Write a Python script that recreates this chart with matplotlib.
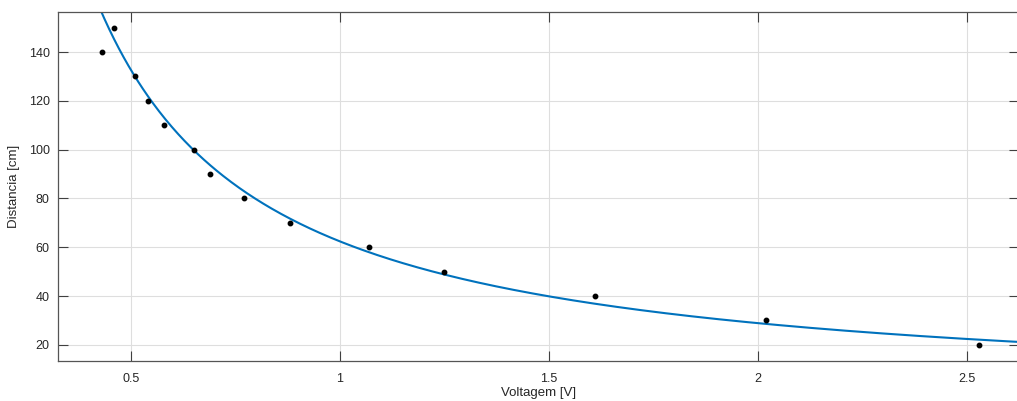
import numpy as np
import matplotlib
matplotlib.use('Agg')
import matplotlib.pyplot as plt

voltagem = [0.43, 0.46, 0.51, 0.54, 0.58, 0.65, 0.69, 0.77, 0.88, 1.07, 1.25, 1.61, 2.02, 2.53]
distancia = [140, 150, 130, 120, 110, 100, 90, 80, 70, 60, 50, 40, 30, 20]

# coeficientes da curva ajustada d = a*V^b + c (estimados a partir do gráfico)
fit_a = 64.05
fit_b = -1.068
fit_c = -1.65

x_ticks = [0.5, 1, 1.5, 2, 2.5]
x_tick_labels = ['0.5', '1', '1.5', '2', '2.5']
y_ticks = [20, 40, 60, 80, 100, 120, 140]

plt.rcParams['font.family'] = ['Liberation Sans', 'DejaVu Sans']

fig = plt.figure(figsize=(10.17, 4.01), dpi=100)
ax = fig.add_axes([0.057, 0.0998, 0.945, 0.8703])

xlim = (0.3253, 2.625)
ylim = (13.4, 156.4)
xs = np.linspace(xlim[0], xlim[1], 600)
ax.plot(xs, fit_a * xs ** fit_b + fit_c, color=(0, 0.447, 0.741), lw=1.5, zorder=2)
ax.plot(voltagem, distancia, 'o', color='black', markersize=3.2, zorder=3)

ax.set_xlim(*xlim)
ax.set_ylim(*ylim)
ax.set_xticks(x_ticks)
ax.set_xticklabels(x_tick_labels)
ax.set_yticks(y_ticks)

dark = '#262626'
ax.grid(True, color='#dedede', lw=0.8)
ax.set_axisbelow(True)
for s in ax.spines.values():
    s.set_color('#555555')
    s.set_linewidth(0.9)
ax.tick_params(direction='in', length=7, width=0.8, color='#404040', labelcolor=dark,
               labelsize=9, top=True, right=True)
ax.tick_params(axis='x', pad=9)
ax.tick_params(axis='y', pad=6)
ax.set_xlabel('Voltagem [V]', fontsize=9.5, color=dark, labelpad=1)
ax.set_ylabel('Distancia [cm]', fontsize=9.5, color=dark, labelpad=6)

fig.savefig('out.png', dpi=100)
